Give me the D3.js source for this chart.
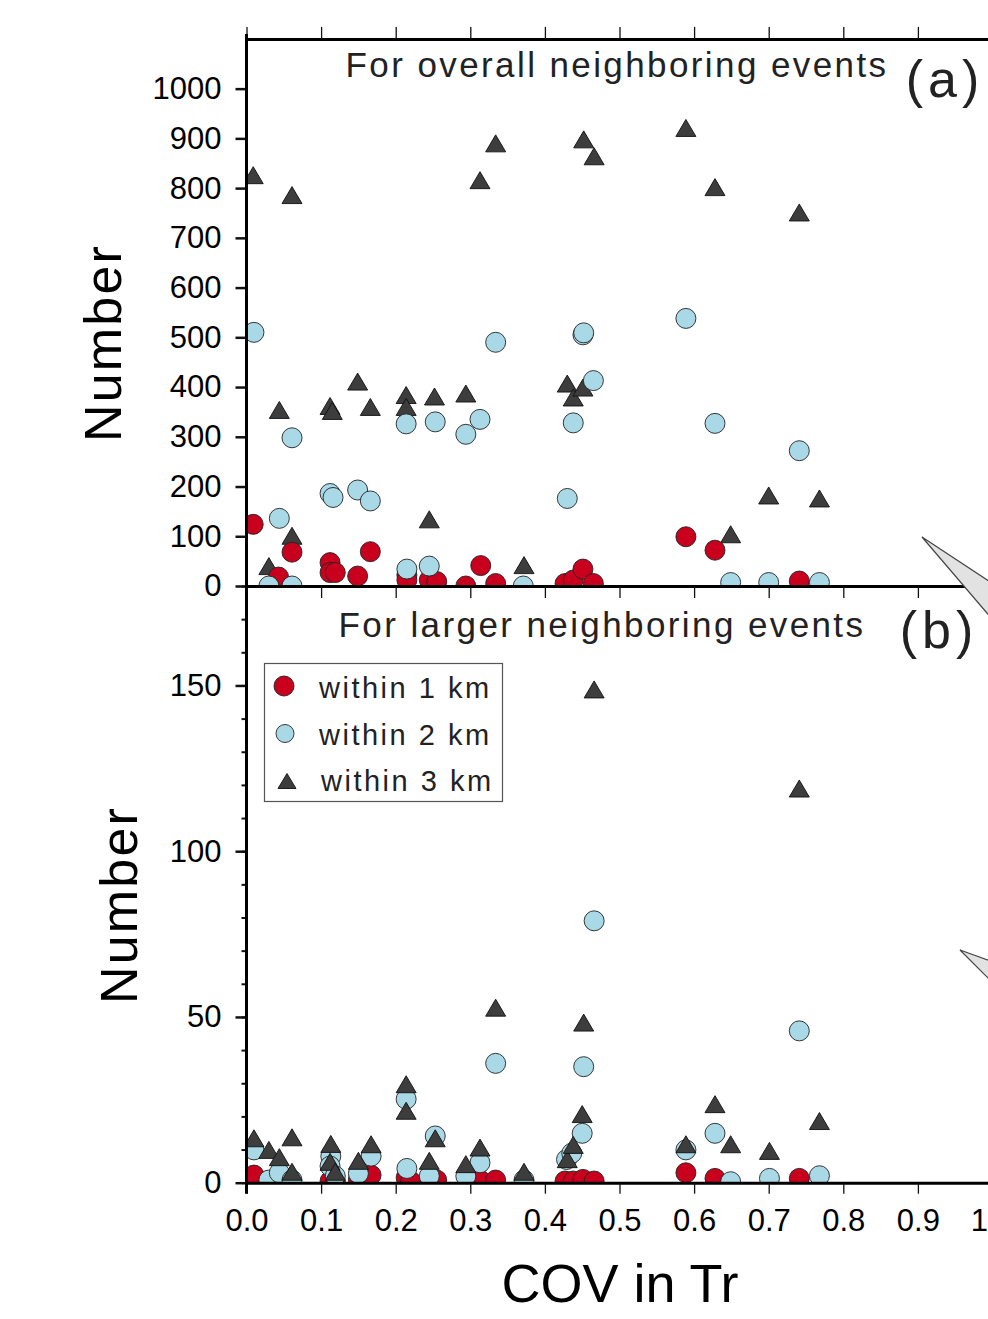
<!DOCTYPE html>
<html>
<head>
<meta charset="utf-8">
<script src="https://cdn.jsdelivr.net/npm/d3@7"></script>
<style>
  html, body { margin: 0; padding: 0; background: #fff; overflow: hidden; }
  svg { display: block; font-family: "Liberation Sans", Arial, Helvetica, sans-serif; }
</style>
</head>
<body>
<script>
// COV of recurrence interval (x) vs. number of neighboring events (y)
// Panel (a): all neighboring events
const overall1km = [[0.009,124],[0.043,18],[0.061,68],[0.112,47],[0.112,27],[0.119,27],[0.149,20],[0.166,69],
  [0.215,22],[0.215,12],[0.245,12],[0.255,9],[0.294,0],[0.314,41],[0.334,5],[0.427,5],[0.438,12],[0.451,34],
  [0.465,5],[0.589,99],[0.628,72],[0.741,10]];
const overall2km = [[0.010,510],[0.030,0],[0.044,136],[0.061,298],[0.061,0],[0.112,186],[0.116,178],[0.149,193],
  [0.166,171],[0.214,326],[0.215,34],[0.245,40],[0.253,330],[0.294,305],[0.313,335],[0.334,490],[0.371,0],
  [0.430,176],[0.438,328],[0.451,505],[0.452,509],[0.465,413],[0.589,538],[0.628,327],[0.649,7],[0.700,7],
  [0.741,272],[0.768,7]];
const overall3km = [[0.009,826],[0.030,40],[0.044,354],[0.061,786],[0.061,101],[0.112,362],[0.115,352],[0.149,411],
  [0.166,360],[0.214,384],[0.214,360],[0.245,134],[0.252,381],[0.294,387],[0.313,816],[0.334,890],[0.372,42],
  [0.430,407],[0.438,379],[0.451,399],[0.452,898],[0.466,864],[0.589,921],[0.628,802],[0.649,104],[0.700,182],
  [0.741,751],[0.768,176]];

// Panel (b): larger neighboring events
const larger1km = [[0.010,2.3],[0.112,0.5],[0.119,0.5],[0.150,1],[0.167,2.3],[0.214,1.5],[0.220,0.5],[0.255,0.8],
  [0.313,0.8],[0.334,0.8],[0.427,0.5],[0.438,0.5],[0.451,1],[0.466,0.5],[0.589,3],[0.628,1.3],[0.741,1.3]];
const larger2km = [[0.010,9.9],[0.030,0.8],[0.044,3],[0.061,0.8],[0.113,8],[0.112,5],[0.119,2],[0.150,2.8],
  [0.167,8],[0.214,25.2],[0.215,4.3],[0.245,2],[0.253,14.1],[0.294,2],[0.313,6],[0.334,36],[0.372,0.8],
  [0.429,7],[0.436,8.9],[0.450,14.9],[0.452,35],[0.466,79],[0.589,9.9],[0.628,14.9],[0.649,0.3],[0.701,1.3],
  [0.741,45.8],[0.768,2.1]];
const larger3km = [[0.010,13.4],[0.030,9.9],[0.044,7.7],[0.061,13.7],[0.061,3.3],[0.113,11.7],[0.112,6.3],
  [0.119,3.3],[0.150,6.6],[0.167,11.6],[0.214,29.7],[0.214,21.7],[0.245,6.6],[0.253,13.4],[0.294,5.6],
  [0.313,10.6],[0.334,52.8],[0.372,3.3],[0.430,7.1],[0.438,11.4],[0.450,20.7],[0.452,48.3],[0.466,148.8],
  [0.589,11.6],[0.628,23.7],[0.649,11.6],[0.701,9.6],[0.741,118.9],[0.768,18.6]];

const xTicks = [0, 0.1, 0.2, 0.3, 0.4, 0.5, 0.6, 0.7, 0.8, 0.9, 1.0];
const xTickLabels = ["0.0", "0.1", "0.2", "0.3", "0.4", "0.5", "0.6", "0.7", "0.8", "0.9", "1"];
const topYTicks = [0, 100, 200, 300, 400, 500, 600, 700, 800, 900, 1000];
const botYTicks = [0, 50, 100, 150];
const botYMinor = d3.range(0, 181, 10);
const legendLabels = ["within 1 km", "within 2 km", "within 3 km"];
const titleA = "For overall neighboring events";
const titleB = "For larger neighboring events";

const RED = "#c8001e", BLUE = "#a9d9e6", TRI = "#3d3d3d";

const W = 1010, H = 1319;
const svg = d3.select("body").append("svg").attr("width", W).attr("height", H);

const x = d3.scaleLinear().domain([0, 1]).range([246.5, 992.5]);
const yTop = d3.scaleLinear().domain([0, 1100]).range([586, 38.9]);
const yBot = d3.scaleLinear().domain([0, 180]).range([1182.7, 586]);

// clip regions for each panel
const defs = svg.append("defs");
defs.append("clipPath").attr("id", "clipTop").append("rect")
  .attr("x", x(0)).attr("y", yTop(1100)).attr("width", x(1) - x(0)).attr("height", yTop(0) - yTop(1100));
defs.append("clipPath").attr("id", "clipBot").append("rect")
  .attr("x", x(0)).attr("y", yBot(180)).attr("width", x(1) - x(0)).attr("height", yBot(0) - yBot(180));

const triPath = "M0,-8.5L10,8.5L-10,8.5Z";

function drawSeries(g, data, y, kind) {
  if (kind === "tri") {
    g.selectAll(null).data(data).enter().append("path")
      .attr("d", triPath)
      .attr("transform", d => `translate(${x(d[0])},${y(d[1])})`)
      .attr("fill", TRI).attr("stroke", "#111").attr("stroke-width", 0.9);
  } else {
    g.selectAll(null).data(data).enter().append("circle")
      .attr("cx", d => x(d[0])).attr("cy", d => y(d[1])).attr("r", 10)
      .attr("fill", kind === "red" ? RED : BLUE)
      .attr("stroke", "#222").attr("stroke-width", 0.9);
  }
}

// panel (a) markers
const gTop = svg.append("g").attr("clip-path", "url(#clipTop)");
drawSeries(gTop, overall3km, yTop, "tri");
drawSeries(gTop, overall1km, yTop, "red");
drawSeries(gTop, overall2km, yTop, "blue");

// panel (b) markers
const gBot = svg.append("g").attr("clip-path", "url(#clipBot)");
drawSeries(gBot, larger1km, yBot, "red");
drawSeries(gBot, larger2km, yBot, "blue");
drawSeries(gBot, larger3km, yBot, "tri");

function styleAxis(g, tickW, lineW) {
  g.select(".domain").attr("stroke", "#000").attr("stroke-width", lineW);
  g.selectAll(".tick line").attr("stroke", "#111").attr("stroke-width", tickW);
  g.selectAll(".tick text").attr("fill", "#000").style("font-size", "31px")
    .style("font-family", '"Liberation Sans", Arial, sans-serif');
}

// frame top of panel (a)
const axTopFrame = svg.append("g").attr("transform", `translate(0,${yTop(1100)})`)
  .call(d3.axisTop(x).tickValues(xTicks).tickSize(12).tickSizeOuter(0).tickFormat(""));
styleAxis(axTopFrame, 1.3, 3);

// shared boundary: bottom of (a), ticks pointing down
const axMid = svg.append("g").attr("transform", `translate(0,${yTop(0)})`)
  .call(d3.axisBottom(x).tickValues(xTicks).tickSize(12).tickSizeOuter(0).tickFormat(""));
styleAxis(axMid, 1.3, 3);

// bottom axis with labels
const axBottom = svg.append("g").attr("transform", `translate(0,${yBot(0)})`)
  .call(d3.axisBottom(x).tickValues(xTicks).tickSize(11).tickSizeOuter(0).tickPadding(15)
    .tickFormat((d, i) => xTickLabels[i]));
styleAxis(axBottom, 1.3, 3);
// last label sits against the right edge
axBottom.selectAll(".tick text").filter(d => d === 1)
  .attr("text-anchor", "end").attr("x", -5);

// left axis of (a)
const axLeftTop = svg.append("g").attr("transform", `translate(${x(0)},0)`)
  .call(d3.axisLeft(yTop).tickValues(topYTicks).tickSize(11).tickSizeOuter(0).tickPadding(14)
    .tickFormat(d3.format("d")));
styleAxis(axLeftTop, 2.5, 3);
axLeftTop.select(".domain").remove();

// left axis of (b): minor then major ticks
const axLeftBotMinor = svg.append("g").attr("transform", `translate(${x(0)},0)`)
  .call(d3.axisLeft(yBot).tickValues(botYMinor).tickSize(5).tickSizeOuter(0).tickFormat(""));
styleAxis(axLeftBotMinor, 2, 3);
axLeftBotMinor.select(".domain").remove();
const axLeftBot = svg.append("g").attr("transform", `translate(${x(0)},0)`)
  .call(d3.axisLeft(yBot).tickValues(botYTicks).tickSize(11).tickSizeOuter(0).tickPadding(14)
    .tickFormat(d3.format("d")));
styleAxis(axLeftBot, 2.5, 3);
axLeftBot.select(".domain").remove();

// left spine running through both panels
svg.append("line").attr("x1", x(0)).attr("x2", x(0))
  .attr("y1", yTop(1100) - 5).attr("y2", yBot(0) + 11)
  .attr("stroke", "#000").attr("stroke-width", 3);
// right spine
svg.append("line").attr("x1", x(1)).attr("x2", x(1))
  .attr("y1", yTop(1100)).attr("y2", yBot(0))
  .attr("stroke", "#000").attr("stroke-width", 3);

// callout wedges leading off to the right
const wedges = [
  [[922, 537], [1010, 595], [1010, 640]],
  [[960, 950], [1010, 968], [1010, 1000]]
];
svg.selectAll(null).data(wedges).enter().append("path")
  .attr("d", d => "M" + d.map(p => p.join(",")).join("L") + "Z")
  .attr("fill", "#e2e2e2").attr("stroke", "#444").attr("stroke-width", 1.2);

// panel titles
svg.append("text").attr("x", 617).attr("y", 77).attr("text-anchor", "middle")
  .style("font-size", "35px").style("letter-spacing", "2.4px").attr("fill", "#222").text(titleA);
svg.append("text").attr("x", 945).attr("y", 97).attr("text-anchor", "middle")
  .style("font-size", "52px").style("letter-spacing", "5px").attr("fill", "#222").text("(a)");
svg.append("text").attr("x", 602).attr("y", 637).attr("text-anchor", "middle")
  .style("font-size", "35px").style("letter-spacing", "2.4px").attr("fill", "#222").text(titleB);
svg.append("text").attr("x", 939).attr("y", 648).attr("text-anchor", "middle")
  .style("font-size", "52px").style("letter-spacing", "5px").attr("fill", "#222").text("(b)");

// axis titles
svg.append("text").attr("transform", "translate(121,343) rotate(-90)").attr("text-anchor", "middle")
  .style("font-size", "52px").style("letter-spacing", "2.2px").attr("fill", "#000").text("Number");
svg.append("text").attr("transform", "translate(137,905) rotate(-90)").attr("text-anchor", "middle")
  .style("font-size", "52px").style("letter-spacing", "2.2px").attr("fill", "#000").text("Number");
svg.append("text").attr("x", 620).attr("y", 1302).attr("text-anchor", "middle")
  .style("font-size", "54px").attr("fill", "#000").text("COV in Tr");

// legend
const lg = svg.append("g");
lg.append("rect").attr("x", 264.5).attr("y", 663.5).attr("width", 238).attr("height", 138)
  .attr("fill", "#fff").attr("stroke", "#555").attr("stroke-width", 1.2);
const legendKinds = ["red", "blue", "tri"];
const legendY = d3.scalePoint().domain(legendLabels).range([686, 779]);
legendLabels.forEach((lab, i) => {
  const cy = legendY(lab);
  const k = legendKinds[i];
  if (k === "tri") {
    lg.append("path").attr("d", "M0,-7.5L9,7.5L-9,7.5Z").attr("transform", `translate(287,${cy + 2})`)
      .attr("fill", TRI).attr("stroke", "#111").attr("stroke-width", 0.9);
  } else {
    lg.append("circle").attr("cx", k === "red" ? 284 : 285).attr("cy", cy + (k === "blue" ? 1 : 0))
      .attr("r", k === "red" ? 10 : 9)
      .attr("fill", k === "red" ? RED : BLUE).attr("stroke", "#222").attr("stroke-width", 0.9);
  }
  lg.append("text").attr("x", i === 2 ? 321 : 319).attr("y", cy + 12)
    .style("font-size", "29px").style("letter-spacing", "2.5px").attr("fill", "#222").text(lab);
});
</script>
</body>
</html>
